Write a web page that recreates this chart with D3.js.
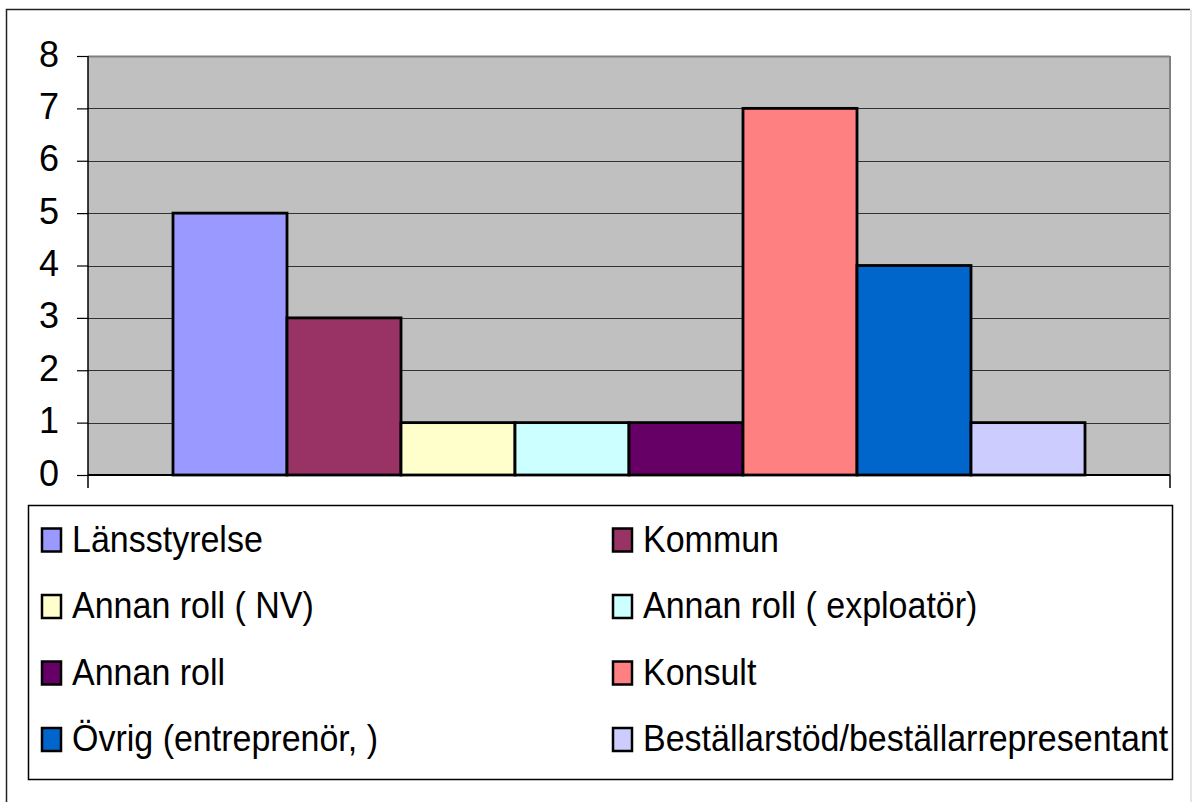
<!DOCTYPE html>
<html><head><meta charset="utf-8">
<script src="https://cdn.jsdelivr.net/npm/d3@7"></script>
<style>html,body{margin:0;background:#fff;overflow:hidden}svg{display:block;font-family:"Liberation Sans",Arial,sans-serif}</style>
</head><body><svg id="c" width="1192" height="802"></svg>
<script>
const categories = ["Total"];
const seriesNames = ["Länsstyrelse","Kommun","Annan roll ( NV)","Annan roll ( exploatör)","Annan roll","Konsult","Övrig (entreprenör, )","Beställarstöd/beställarrepresentant"];
const seriesValues = [5,3,1,1,1,7,4,1];
const seriesColors = ["#9999FF","#993366","#FFFFCC","#CCFFFF","#660066","#FF8080","#0066CC","#CCCCFF"];
const yTicks = [0,1,2,3,4,5,6,7,8];

const svg = d3.select("#c");
// outer frame (left, top dark; right light)
svg.append("path").attr("d","M6.5,802 L6.5,9.5 L1190,9.5")
  .attr("fill","none").attr("stroke","#222").attr("stroke-width",1.5);
svg.append("line").attr("x1",1191).attr("x2",1191).attr("y1",10).attr("y2",802).attr("stroke","#ddd").attr("stroke-width",1.5);

const plot = {l:88,t:56,r:1170,b:475};
const y = d3.scaleLinear().domain([0,8]).range([plot.b,plot.t]);
const x0 = d3.scaleBand().domain(categories).range([plot.l,plot.r]).paddingInner(0).paddingOuter(0.0932);
const x1 = d3.scaleBand().domain(seriesNames).range([0,x0.bandwidth()]).padding(0);

svg.append("rect").attr("x",plot.l).attr("y",plot.t).attr("width",plot.r-plot.l).attr("height",plot.b-plot.t)
  .attr("fill","#C0C0C0");
// gridlines
svg.append("g").selectAll("line").data(yTicks.filter(d=>d>0)).join("line")
  .attr("x1",plot.l).attr("x2",plot.r).attr("y1",d=>Math.round(y(d))+0.5).attr("y2",d=>Math.round(y(d))+0.5)
  .attr("stroke",d=>d===8?"#808080":"#333").attr("stroke-width",d=>d===8?2:1.2);
// plot border right
svg.append("line").attr("x1",plot.r).attr("x2",plot.r).attr("y1",plot.t).attr("y2",plot.b).attr("stroke","#808080").attr("stroke-width",2);

// bars
const g = svg.append("g").selectAll("g").data(categories).join("g").attr("transform",d=>`translate(${x0(d)},0)`);
g.selectAll("rect").data(seriesNames.map((n,i)=>({n,v:seriesValues[i],c:seriesColors[i]}))).join("rect")
  .attr("x",d=>x1(d.n)).attr("width",x1.bandwidth())
  .attr("y",d=>y(d.v)).attr("height",d=>y(0)-y(d.v))
  .attr("fill",d=>d.c).attr("stroke","#000").attr("stroke-width",2.8);

// y axis
const yAxis = d3.axisLeft(y).tickValues(yTicks).tickSize(11).tickPadding(0).tickFormat(d3.format("d"));
const ya = svg.append("g").attr("transform",`translate(${plot.l},0)`).call(yAxis);
ya.select(".domain").remove();
ya.selectAll(".tick line").attr("stroke","#000").attr("stroke-width",1.2);
ya.selectAll(".tick text").attr("x",-29).attr("dy",null).attr("y",10).attr("text-anchor","end")
  .attr("font-size",36).attr("fill","#000").attr("font-family","Liberation Sans, Arial, sans-serif");
svg.append("line").attr("x1",plot.l).attr("x2",plot.l).attr("y1",plot.t).attr("y2",488).attr("stroke","#000").attr("stroke-width",1.5);
// x axis
svg.append("line").attr("x1",plot.l).attr("x2",plot.r).attr("y1",plot.b).attr("y2",plot.b).attr("stroke","#000").attr("stroke-width",2);
svg.append("line").attr("x1",plot.r).attr("x2",plot.r).attr("y1",plot.b).attr("y2",488).attr("stroke","#000").attr("stroke-width",1.5);

// legend
svg.append("rect").attr("x",28.5).attr("y",505.5).attr("width",1144).attr("height",274)
  .attr("fill","#fff").attr("stroke","#000").attr("stroke-width",1.5);
const leg = svg.append("g").selectAll("g").data(seriesNames.map((n,i)=>({n,c:seriesColors[i],i}))).join("g")
  .attr("transform",d=>`translate(${d.i%2===0?41:612},${551.5+Math.floor(d.i/2)*66.5})`);
leg.append("rect").attr("x",1).attr("y",-23).attr("width",19).attr("height",23)
  .attr("fill",d=>d.c).attr("stroke","#000").attr("stroke-width",2.5);
leg.append("text").attr("transform","translate(31,0) scale(1,1.08)").attr("font-size",34).attr("fill","#000")
  .text(d=>d.n);
</script></body></html>
